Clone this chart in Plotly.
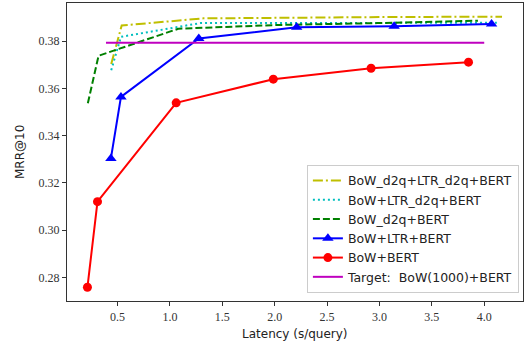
import plotly.graph_objects as go

# Latency (s/query) and MRR@10 values
x_bow_bert = [0.213, 0.309, 1.06, 1.987, 2.92, 3.85]
y_bow_bert = [0.2759, 0.3121, 0.3539, 0.3639, 0.3685, 0.3711]

x_bow_ltr_bert = [0.437, 0.533, 1.276, 2.21, 3.14, 4.07]
y_bow_ltr_bert = [0.3304, 0.3564, 0.3811, 0.3858, 0.3863, 0.3872]

x_bowd2q_bert = [0.217, 0.319, 1.08, 2.02, 2.98, 3.94]
y_bowd2q_bert = [0.3537, 0.3738, 0.3852, 0.3868, 0.3876, 0.3886]

x_bow_ltrd2q_bert = [0.44, 0.533, 1.29, 2.24, 3.18, 4.12]
y_bow_ltrd2q_bert = [0.3677, 0.3818, 0.3876, 0.3878, 0.3877, 0.3878]

x_bowd2q_ltrd2q_bert = [0.44, 0.54, 1.32, 2.27, 3.22, 4.17]
y_bowd2q_ltrd2q_bert = [0.3703, 0.3866, 0.3896, 0.3900, 0.3902, 0.3903]

x_target = [0.39, 4.0]
y_target = [0.3793, 0.3793]

x_ticks = [0.5, 1.0, 1.5, 2.0, 2.5, 3.0, 3.5, 4.0]
y_ticks = [0.28, 0.30, 0.32, 0.34, 0.36, 0.38]

fig = go.Figure()
fig.add_trace(go.Scatter(x=x_bowd2q_ltrd2q_bert, y=y_bowd2q_ltrd2q_bert, mode="lines",
                         name="BoW_d2q+LTR_d2q+BERT",
                         line=dict(color="#bfbf00", width=2, dash="10px,3px,2px,3px")))
fig.add_trace(go.Scatter(x=x_bow_ltrd2q_bert, y=y_bow_ltrd2q_bert, mode="lines",
                         name="BoW+LTR_d2q+BERT",
                         line=dict(color="#00bfbf", width=2, dash="2px,3px")))
fig.add_trace(go.Scatter(x=x_bowd2q_bert, y=y_bowd2q_bert, mode="lines",
                         name="BoW_d2q+BERT",
                         line=dict(color="#008000", width=2, dash="7px,3px")))
fig.add_trace(go.Scatter(x=x_bow_ltr_bert, y=y_bow_ltr_bert, mode="lines+markers",
                         name="BoW+LTR+BERT",
                         line=dict(color="#0000ff", width=2),
                         marker=dict(symbol="triangle-up", size=10, color="#0000ff")))
fig.add_trace(go.Scatter(x=x_bow_bert, y=y_bow_bert, mode="lines+markers",
                         name="BoW+BERT",
                         line=dict(color="#ff0000", width=2),
                         marker=dict(symbol="circle", size=9, color="#ff0000")))
fig.add_trace(go.Scatter(x=x_target, y=y_target, mode="lines",
                         name="Target:  BoW(1000)+BERT",
                         line=dict(color="#bf00bf", width=2)))

fig.update_layout(
    width=526, height=344,
    margin=dict(l=67, r=3, t=3, b=43, autoexpand=False),
    plot_bgcolor="white", paper_bgcolor="white",
    font=dict(family="DejaVu Sans", size=12, color="#222"),
    showlegend=True,
    legend=dict(x=0.991, y=0.027, xanchor="right", yanchor="bottom",
                bgcolor="rgba(255,255,255,0.85)", bordercolor="#cccccc", borderwidth=1,
                font=dict(family="DejaVu Sans", size=12.5, color="#222"),
                tracegroupgap=0, itemwidth=30),
    annotations=[
        dict(text="Latency (s/query)", xref="paper", yref="paper", x=0.5, y=0,
             xanchor="center", yanchor="top", yshift=-24, showarrow=False,
             font=dict(family="DejaVu Sans", size=12, color="#222")),
        dict(text="MRR@10", xref="paper", yref="paper", x=0, y=0.5,
             xanchor="right", yanchor="middle", xshift=-38, textangle=-90,
             showarrow=False, font=dict(family="DejaVu Sans", size=12, color="#222")),
    ],
)
fig.update_xaxes(range=[0.018, 4.37], tickvals=x_ticks, tickformat=".1f", automargin=False,
                 showgrid=False, zeroline=False, showline=True, linecolor="#333",
                 linewidth=1.2, mirror=True, ticks="outside", ticklen=4, tickcolor="#333",
                 tickfont=dict(family="Liberation Serif", size=12, color="#333"))
fig.update_yaxes(range=[0.2701, 0.3961], tickvals=y_ticks, tickformat=".2f", automargin=False,
                 showgrid=False, zeroline=False, showline=True, linecolor="#333",
                 linewidth=1.2, mirror=True, ticks="outside", ticklen=4, tickcolor="#333",
                 tickfont=dict(family="Liberation Serif", size=12, color="#333"))

fig.write_html("out.html", config={"displayModeBar": False},
               post_script="document.body.style.margin='0';document.body.style.overflow='hidden';")
